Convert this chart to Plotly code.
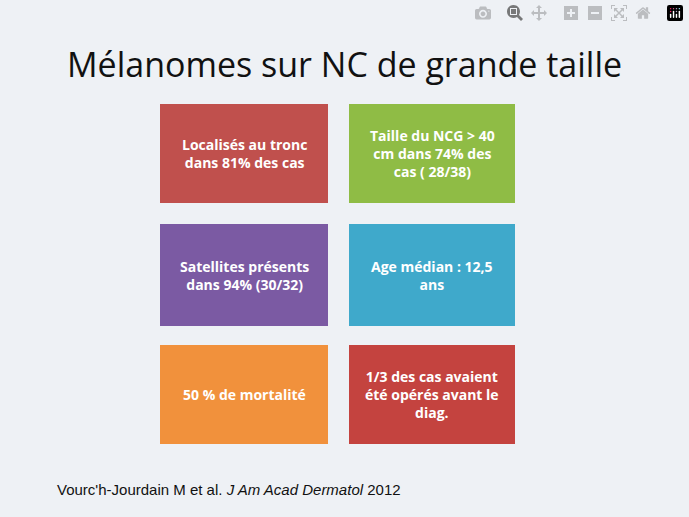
import plotly.graph_objects as go

W, H = 689, 517
title = "Mélanomes sur NC de grande taille"
box_texts = [
    "Localisés au tronc<br>dans 81% des cas",
    "Taille du NCG > 40<br>cm dans 74% des<br>cas ( 28/38)",
    "Satellites présents<br>dans 94% (30/32)",
    "Age médian : 12,5<br>ans",
    "50 % de mortalité",
    "1/3 des cas avaient<br>été opérés avant le<br>diag.",
]
box_colors = ["#c0504d", "#8fbc45", "#7b5aa3", "#3fa9cb", "#f1913c", "#c4433f"]
col_x = [(160, 328), (349, 515)]
row_y = [(104, 203), (224, 326), (345, 444)]
citation = "Vourc'h-Jourdain M et al. <i>J Am Acad Dermatol</i> 2012"

fig = go.Figure()
shapes, anns = [], []
for i, (t, c) in enumerate(zip(box_texts, box_colors)):
    x0, x1 = col_x[i % 2]
    y0, y1 = row_y[i // 2]
    shapes.append(dict(type="rect", xref="paper", yref="paper",
                       x0=x0 / W, x1=x1 / W, y0=1 - y1 / H, y1=1 - y0 / H,
                       fillcolor=c, line=dict(width=0)))
    anns.append(dict(x=(x0 + x1) / 2 / W, y=1 - (y0 + y1) / 2 / H, xref="paper", yref="paper",
                     xanchor="center", yanchor="middle",
                     text="<b>" + t + "</b>", showarrow=False,
                     font=dict(color="white", size=14, family="Open Sans")))
anns.append(dict(x=0.5, y=1 - 64 / H, xref="paper", yref="paper", text=title, showarrow=False,
                 xanchor="center", yanchor="middle",
                 font=dict(size=34, color="#111111", family="Open Sans")))
anns.append(dict(x=55 / W, y=1 - 490 / H, xref="paper", yref="paper", text=citation,
                 showarrow=False, xanchor="left", yanchor="middle",
                 font=dict(size=15, color="#111111", family="Liberation Sans")))
fig.update_layout(width=W, height=H, margin=dict(l=0, r=0, t=0, b=0),
                  paper_bgcolor="#eef1f5", plot_bgcolor="#eef1f5",
                  shapes=shapes, annotations=anns,
                  xaxis=dict(visible=False), yaxis=dict(visible=False))
fig.write_html("out.html")
with open("out.html", encoding="utf-8") as f:
    html = f.read()
html = html.replace("<head>", "<head><style>html,body{margin:0;padding:0;overflow:hidden;background:#eef1f5}</style>", 1)
with open("out.html", "w", encoding="utf-8") as f:
    f.write(html)
